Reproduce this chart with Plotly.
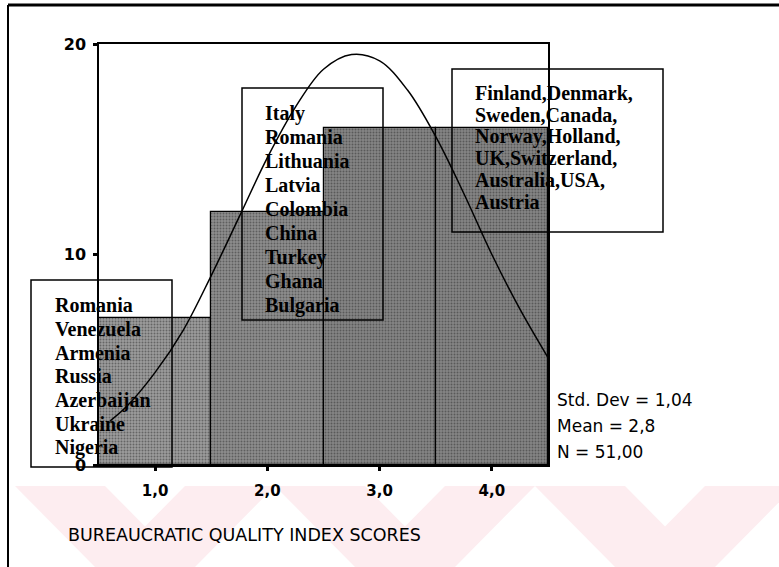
import plotly.graph_objects as go

# ---------------- data ----------------
bin_centers = [1, 2, 3, 4]
counts = [7, 12, 16, 16]

curve_x = [0.6, 0.75, 1.0, 1.25, 1.5, 1.75, 2.0, 2.25, 2.5, 2.75,
           3.0, 3.25, 3.5, 3.75, 4.0, 4.25, 4.5]
curve_y = [2.1, 2.8, 4.4, 6.4, 9.0, 11.8, 14.6, 17.0, 18.8, 19.5,
           19.2, 17.8, 15.6, 12.9, 10.0, 7.4, 5.1]

x_ticks = [1, 2, 3, 4]
x_tick_labels = ["1,0", "2,0", "3,0", "4,0"]
y_ticks = [0, 10, 20]
y_tick_labels = ["0", "10", "20"]

group_low = ["Romania", "Venezuela", "Armenia", "Russia", "Azerbaijan",
             "Ukraine", "Nigeria"]
group_mid = ["Italy", "Romania", "Lithuania", "Latvia", "Colombia", "China",
             "Turkey", "Ghana", "Bulgaria"]
group_high = ["Finland,Denmark,", "Sweden,Canada,", "Norway,Holland,",
              "UK,Switzerland,", "Australia,USA,", "Austria"]
stats_lines = ["Std. Dev = 1,04", "Mean = 2,8", "N = 51,00"]
x_title = "BUREAUCRATIC QUALITY INDEX SCORES"

# ---------------- geometry helpers ----------------
W, H = 779, 567
L, R, T, B = 99, 231, 44, 102
PW, PH = W - L - R, H - T - B


def px(x):
    return (x - L) / PW


def py(y):
    return (H - B - y) / PH


fig = go.Figure()

fig.add_trace(go.Bar(
    x=bin_centers, y=counts, width=1,
    marker=dict(
        color="#8c8c8c",
        line=dict(color="black", width=1.2),
        pattern=dict(shape=".", fgcolor="#2e2e2e",
                     bgcolor=["#9c9c9c", "#8e8e8e", "#858585", "#858585"],
                     size=3, solidity=0.35),
    ),
    hoverinfo="skip", showlegend=False,
))

fig.add_trace(go.Scatter(
    x=curve_x, y=curve_y, mode="lines", line=dict(color="black", width=1.5, shape="spline"),
    hoverinfo="skip", showlegend=False,
))

shapes = []
annotations = []

# outer frame (top and left edges)
shapes.append(dict(type="line", xref="paper", yref="paper",
                   x0=px(8), x1=px(779), y0=py(5), y1=py(5),
                   line=dict(color="black", width=3)))
shapes.append(dict(type="line", xref="paper", yref="paper",
                   x0=px(8), x1=px(8), y0=py(5), y1=py(567),
                   line=dict(color="black", width=2)))

# faint watermark chevrons at the bottom
wm = "#fdedf0"
for x0 in [15, 275, 535]:
    for poly in ([(x0, 486), (x0 + 90, 486), (x0 + 170, 567), (x0 + 80, 567)],
                 [(x0 + 170, 486), (x0 + 260, 486), (x0 + 180, 567), (x0 + 90, 567)]):
        path = "M " + " L ".join(f"{px(a)},{py(b)}" for a, b in poly) + " Z"
        shapes.append(dict(type="path", xref="paper", yref="paper", path=path,
                           fillcolor=wm, line=dict(width=0), layer="below"))

# text boxes
boxes = [
    ((31, 280, 172, 467), 53, 305, 23.8, group_low),
    ((242, 88, 383, 320), 263, 113, 24.0, group_mid),
    ((452, 69, 663, 232), 473, 93, 21.8, group_high),
]
for (bx0, by0, bx1, by1), tx, ty0, step, lines in boxes:
    shapes.append(dict(type="rect", xref="paper", yref="paper",
                       x0=px(bx0), x1=px(bx1), y0=py(by1), y1=py(by0),
                       line=dict(color="black", width=1.5), layer="above"))
    for i, txt in enumerate(lines):
        annotations.append(dict(
            xref="paper", yref="paper", x=px(tx), y=py(ty0 + i * step),
            text=txt, showarrow=False, xanchor="left", yanchor="middle",
            font=dict(family="Liberation Serif", size=20, color="black", weight="bold"),
        ))

# statistics
for i, txt in enumerate(stats_lines):
    annotations.append(dict(
        xref="paper", yref="paper", x=px(555), y=py(400 + i * 26),
        text=txt, showarrow=False, xanchor="left", yanchor="middle",
        font=dict(family="DejaVu Sans", size=17, color="black"),
    ))

# axis title
annotations.append(dict(
    xref="paper", yref="paper", x=px(244), y=py(535),
    text=x_title, showarrow=False, xanchor="center", yanchor="middle",
    font=dict(family="DejaVu Sans", size=17.5, color="black"),
))

fig.update_layout(
    width=W, height=H,
    margin=dict(l=L, r=R, t=T, b=B, pad=0),
    paper_bgcolor="white", plot_bgcolor="rgba(0,0,0,0)",
    bargap=0, showlegend=False,
    shapes=shapes, annotations=annotations,
    xaxis=dict(range=[0.5, 4.5], tickvals=x_ticks, ticktext=x_tick_labels,
               showline=True, mirror=True, linecolor="black", linewidth=1.5,
               ticks="outside", ticklen=4, tickwidth=3, tickcolor="black",
               showgrid=False, zeroline=False, ticklabelstandoff=7,
               tickfont=dict(family="DejaVu Sans", size=15, color="black", weight="bold")),
    yaxis=dict(range=[0, 20], tickvals=y_ticks, ticktext=y_tick_labels,
               showline=True, mirror=True, linecolor="black", linewidth=1.5,
               ticks="outside", ticklen=4, tickwidth=3, tickcolor="black",
               showgrid=False, zeroline=False, ticklabelstandoff=4,
               tickfont=dict(family="DejaVu Sans", size=16, color="black", weight="bold")),
)

fig.write_html("out.html", config={"displayModeBar": False},
               post_script="document.body.style.margin='0px';")
